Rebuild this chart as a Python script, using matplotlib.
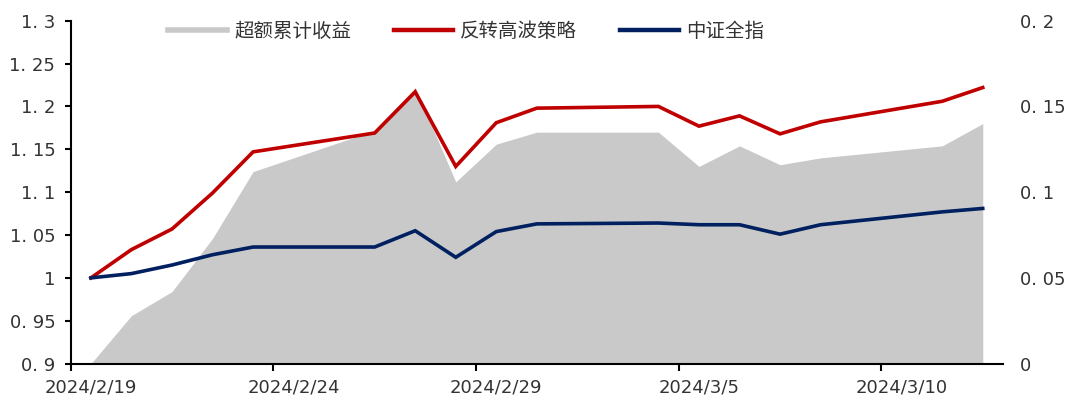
import matplotlib
matplotlib.use("Agg")
import matplotlib.pyplot as plt
import matplotlib.dates as mdates
from matplotlib.lines import Line2D
from matplotlib.ticker import FixedLocator, FuncFormatter
import pandas as pd

# trading days
dates = ['2024-02-19', '2024-02-20', '2024-02-21', '2024-02-22', '2024-02-23',
         '2024-02-26', '2024-02-27', '2024-02-28', '2024-02-29', '2024-03-01',
         '2024-03-04', '2024-03-05', '2024-03-06', '2024-03-07', '2024-03-08',
         '2024-03-11', '2024-03-12']
strategy = [1.000, 1.033, 1.057, 1.099, 1.147, 1.169, 1.217, 1.130, 1.181, 1.198,
            1.200, 1.177, 1.189, 1.168, 1.182, 1.206, 1.222]
index_all = [1.000, 1.005, 1.015, 1.027, 1.036, 1.036, 1.055, 1.024, 1.054, 1.063,
             1.064, 1.062, 1.062, 1.051, 1.062, 1.077, 1.081]
excess = [0.000, 0.028, 0.042, 0.073, 0.112, 0.136, 0.161, 0.106, 0.128, 0.135,
          0.135, 0.115, 0.127, 0.116, 0.120, 0.127, 0.140]
label_dates = ['2024-02-19', '2024-02-24', '2024-02-29', '2024-03-05', '2024-03-10']
left_ticks = [0.9, 0.95, 1.0, 1.05, 1.1, 1.15, 1.2, 1.25, 1.3]
right_ticks = [0, 0.05, 0.1, 0.15, 0.2]

RED = '#C00000'
BLUE = '#002060'
GRAY = '#C9C9C9'
TXT = '#333333'

plt.rcParams['font.family'] = ['DejaVu Sans']

x = mdates.date2num(pd.to_datetime(dates))
xt = mdates.date2num(pd.to_datetime(label_dates))


def fmt_num(v, pos=None):
    return f"{v:g}".replace('.', '. ')


def fmt_date(v, pos=None):
    d = mdates.num2date(v)
    return f"{d.year}/{d.month}/{d.day}"


fig = plt.figure(figsize=(10.77, 3.99), dpi=100)
ax1 = fig.add_axes([0.0656, 0.0887, 0.8657, 0.8594])
ax2 = ax1.twinx()
ax1.set_zorder(2)
ax2.set_zorder(1)
ax1.patch.set_visible(False)

ax2.fill_between(x, 0, excess, color=GRAY, linewidth=0)
ax1.plot(x, strategy, color=RED, linewidth=2.6, solid_joinstyle='miter')
ax1.plot(x, index_all, color=BLUE, linewidth=2.6, solid_joinstyle='miter')

ax1.set_xlim(x[0] - 0.5, x[-1] + 0.5)
ax1.set_ylim(0.9, 1.3)
ax2.set_ylim(0, 0.2)

ax1.xaxis.set_major_locator(FixedLocator(xt))
ax1.xaxis.set_major_formatter(FuncFormatter(fmt_date))
ax1.xaxis.set_minor_locator(FixedLocator(xt - 0.5))
ax1.tick_params(axis='x', which='major', length=0, pad=11, labelsize=13, labelcolor=TXT)
ax1.tick_params(axis='x', which='minor', length=5, width=1.5, direction='out')

ax1.yaxis.set_major_locator(FixedLocator(left_ticks))
ax1.yaxis.set_major_formatter(FuncFormatter(fmt_num))
ax1.tick_params(axis='y', length=4, width=1.5, pad=7, labelsize=13, labelcolor=TXT)

ax2.yaxis.set_major_locator(FixedLocator(right_ticks))
ax2.yaxis.set_major_formatter(FuncFormatter(fmt_num))
ax2.tick_params(axis='y', length=0, pad=12, labelsize=13, labelcolor=TXT)

for s in ['top', 'right']:
    ax1.spines[s].set_visible(False)
for s in ['top', 'right', 'left', 'bottom']:
    ax2.spines[s].set_visible(False)
ax1.spines['left'].set_linewidth(1.5)
ax1.spines['bottom'].set_linewidth(1.5)

handles = [Line2D([], [], color=GRAY, linewidth=4),
           Line2D([], [], color=RED, linewidth=3.2),
           Line2D([], [], color=BLUE, linewidth=3.2)]
names = ['超额累计收益', '反转高波策略', '中证全指']
fig.legend(handles, names, loc='center', bbox_to_anchor=(0.433, 0.922), ncol=3,
           frameon=False, handlelength=3.0, handletextpad=0.4, columnspacing=2.2,
           prop={'family': ['Noto Sans CJK SC', 'DejaVu Sans'], 'size': 14},
           labelcolor=TXT)

fig.savefig('out.png', dpi=100)
